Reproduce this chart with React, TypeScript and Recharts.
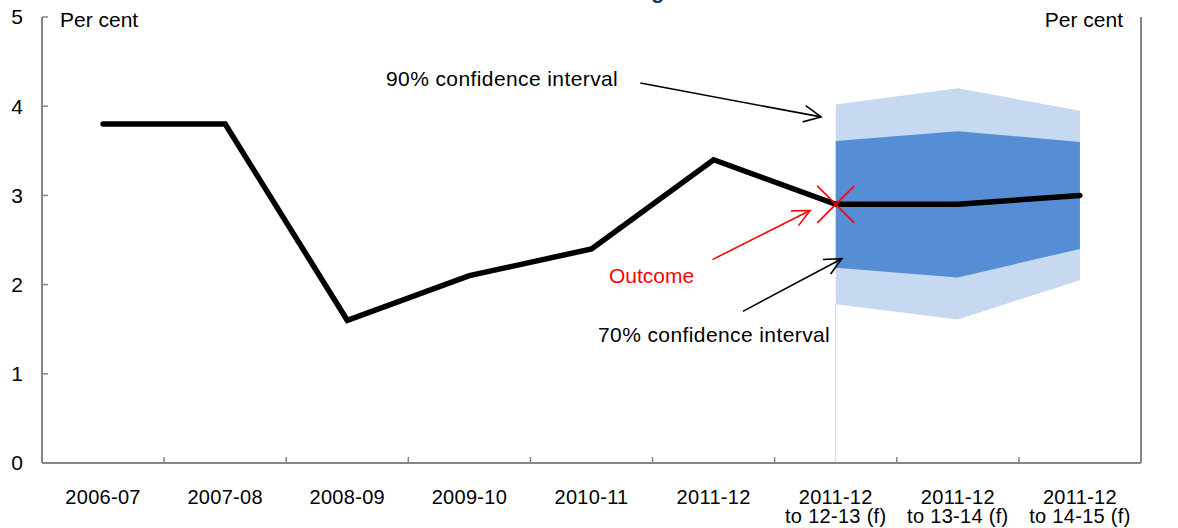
import React from 'react';
import { ComposedChart, Line, Area, XAxis, YAxis, ReferenceLine } from 'recharts';

const FONT = "'Liberation Sans', Arial, Helvetica, sans-serif";
const AXIS = '#868686';

const categories = [
  '2006-07',
  '2007-08',
  '2008-09',
  '2009-10',
  '2010-11',
  '2011-12',
  '2011-12 to 12-13 (f)',
  '2011-12 to 13-14 (f)',
  '2011-12 to 14-15 (f)',
];
const labelTop = ['2006-07', '2007-08', '2008-09', '2009-10', '2010-11', '2011-12', '2011-12', '2011-12', '2011-12'];
const labelBottom = ['', '', '', '', '', '', 'to 12-13 (f)', 'to 13-14 (f)', 'to 14-15 (f)'];

const growth = [3.8, 3.8, 1.6, 2.1, 2.4, 3.4, 2.9, 2.9, 3.0];
const band90Low: (number | null)[] = [null, null, null, null, null, null, 1.78, 1.61, 2.05];
const band90High: (number | null)[] = [null, null, null, null, null, null, 4.02, 4.2, 3.95];
const band70Low: (number | null)[] = [null, null, null, null, null, null, 2.19, 2.08, 2.4];
const band70High: (number | null)[] = [null, null, null, null, null, null, 3.61, 3.72, 3.6];
const outcome: (number | null)[] = [null, null, null, null, null, null, 2.9, null, null];

const yTicks = [0, 1, 2, 3, 4, 5];

// annotation arrows in data coordinates: [xStart, yStart, xEnd, yEnd]
const arrow90 = [4.9, 4.26, 6.38, 3.88];
const arrowOutcome = [5.49, 2.28, 6.29, 2.83];
const arrow70 = [5.74, 1.7, 6.55, 2.29];

const data = categories.map((c, i) => ({
  x: i + 0.5,
  cat: c,
  growth: growth[i],
  b90: band90Low[i] == null ? null : [band90Low[i], band90High[i]],
  b70: band70Low[i] == null ? null : [band70Low[i], band70High[i]],
  outcome: outcome[i],
}));

const xTicks: number[] = [];
categories.forEach((_, i) => {
  if (i > 0) xTicks.push(i);
  xTicks.push(i + 0.5);
});

const XTick = (props: any) => {
  const { x, y, payload } = props;
  const v = Number(payload.value);
  if (Number.isInteger(v)) {
    return <line x1={x} x2={x} y1={y} y2={y - 6} stroke={AXIS} strokeWidth={1.5} />;
  }
  const i = Math.floor(v);
  return (
    <text x={x} y={y + 41} textAnchor="middle" fontSize={20} fill="#000" fontFamily={FONT} letterSpacing={0.3}>
      <tspan x={x}>{labelTop[i]}</tspan>
      {labelBottom[i] ? (
        <tspan x={x} dy={19}>
          {labelBottom[i]}
        </tspan>
      ) : null}
    </text>
  );
};

const LeftTick = (props: any) => {
  const { x, y, payload } = props;
  return (
    <g>
      <line x1={x} x2={x + 6} y1={y} y2={y} stroke={AXIS} strokeWidth={1.5} />
      <text x={x - 19} y={y} dy="0.35em" textAnchor="end" fontSize={21} fill="#000" fontFamily={FONT}>
        {payload.value}
      </text>
    </g>
  );
};

const RightTick = (props: any) => {
  const { x, y, payload } = props;
  return (
    <g>
      <line x1={x - 6} x2={x} y1={y} y2={y} stroke={AXIS} strokeWidth={1.5} />
      <text x={x + 21} y={y} dy="0.35em" textAnchor="start" fontSize={21} fill="#000" fontFamily={FONT}>
        {payload.value}
      </text>
    </g>
  );
};

const arrowShape = (color: string) => (p: any) => {
  const { x1, y1, x2, y2 } = p;
  const a = Math.atan2(y2 - y1, x2 - x1);
  const L = 19;
  const h = 0.45;
  const ax1 = x2 - L * Math.cos(a - h);
  const ay1 = y2 - L * Math.sin(a - h);
  const ax2 = x2 - L * Math.cos(a + h);
  const ay2 = y2 - L * Math.sin(a + h);
  return (
    <g>
      <line x1={x1} y1={y1} x2={x2} y2={y2} stroke={color} strokeWidth={1.6} />
      <polyline
        points={`${ax1},${ay1} ${x2},${y2} ${ax2},${ay2}`}
        fill="none"
        stroke={color}
        strokeWidth={1.6}
      />
    </g>
  );
};

const OutcomeDot = (props: any) => {
  const { cx, cy, value, index } = props;
  if (value == null || cx == null || cy == null) return <g key={`o${index}`} />;
  const s = 18.5;
  return (
    <g key={`o${index}`}>
      <line x1={cx - s} y1={cy - s} x2={cx + s} y2={cy + s} stroke="#FF0000" strokeWidth={1.6} />
      <line x1={cx - s} y1={cy + s} x2={cx + s} y2={cy - s} stroke="#FF0000" strokeWidth={1.6} />
    </g>
  );
};

export default function App() {
  const textStyle = { fontFamily: FONT, fontSize: 21 };
  return (
    <div style={{ position: 'absolute', left: 0, top: 0, width: 1178, height: 528, background: '#fff' }}>
      <ComposedChart
        width={1178}
        height={528}
        data={data}
        margin={{ top: 17, right: 0, bottom: 0, left: 0 }}
      >
        <XAxis
          dataKey="x"
          type="number"
          domain={[0, 9]}
          ticks={xTicks}
          interval={0}
          allowDataOverflow
          height={65}
          tickSize={0}
          tickMargin={0}
          tickLine={false}
          axisLine={{ stroke: AXIS, strokeWidth: 2 }}
          tick={<XTick />}
        />
        <YAxis
          yAxisId="left"
          orientation="left"
          width={42}
          domain={[0, 5]}
          ticks={yTicks}
          interval={0}
          tickSize={0}
          tickMargin={0}
          tickLine={false}
          axisLine={{ stroke: AXIS, strokeWidth: 2 }}
          tick={<LeftTick />}
        />
        <YAxis
          yAxisId="right"
          orientation="right"
          width={37}
          domain={[0, 5]}
          ticks={yTicks}
          interval={0}
          tickSize={0}
          tickMargin={0}
          tickLine={false}
          axisLine={{ stroke: AXIS, strokeWidth: 2 }}
          tick={<RightTick />}
        />
        <ReferenceLine
          yAxisId="left"
          segment={[
            { x: data[6].x, y: 0 },
            { x: data[6].x, y: band90Low[6] as number },
          ]}
          stroke="#C6D9F1"
          strokeWidth={1}
        />
        <Area
          yAxisId="left"
          type="linear"
          dataKey="b90"
          stroke="none"
          fill="#C6D9F1"
          fillOpacity={1}
          dot={false}
          activeDot={false}
          isAnimationActive={false}
        />
        <Area
          yAxisId="left"
          type="linear"
          dataKey="b70"
          stroke="none"
          fill="#558ED5"
          fillOpacity={1}
          dot={false}
          activeDot={false}
          isAnimationActive={false}
        />
        <Line
          yAxisId="left"
          type="linear"
          dataKey="growth"
          stroke="#000"
          strokeWidth={5.5}
          strokeLinecap="round"
          dot={false}
          activeDot={false}
          isAnimationActive={false}
        />
        <Line
          yAxisId="left"
          type="linear"
          dataKey="outcome"
          stroke="none"
          dot={<OutcomeDot />}
          activeDot={false}
          isAnimationActive={false}
        />
        <ReferenceLine
          yAxisId="left"
          segment={[
            { x: arrow90[0], y: arrow90[1] },
            { x: arrow90[2], y: arrow90[3] },
          ]}
          shape={arrowShape('#000')}
        />
        <ReferenceLine
          yAxisId="left"
          segment={[
            { x: arrowOutcome[0], y: arrowOutcome[1] },
            { x: arrowOutcome[2], y: arrowOutcome[3] },
          ]}
          shape={arrowShape('#FF0000')}
        />
        <ReferenceLine
          yAxisId="left"
          segment={[
            { x: arrow70[0], y: arrow70[1] },
            { x: arrow70[2], y: arrow70[3] },
          ]}
          shape={arrowShape('#000')}
        />
      </ComposedChart>
      <svg
        width={1178}
        height={528}
        style={{ position: 'absolute', left: 0, top: 0, pointerEvents: 'none' }}
      >
        <text x={651} y={-2} fontFamily={FONT} fontSize={22} fontWeight="bold" fill="#1F3A60">
          g
        </text>
        <text x={60} y={27} {...textStyle} fill="#000">
          Per cent
        </text>
        <text x={1123} y={27} textAnchor="end" {...textStyle} fill="#000">
          Per cent
        </text>
        <text x={386} y={86} {...textStyle} fill="#000" letterSpacing={0.4}>
          90% confidence interval
        </text>
        <text x={609} y={283} {...textStyle} fill="#FF0000">
          Outcome
        </text>
        <text x={598} y={342} {...textStyle} fill="#000" letterSpacing={0.4}>
          70% confidence interval
        </text>
      </svg>
    </div>
  );
}
